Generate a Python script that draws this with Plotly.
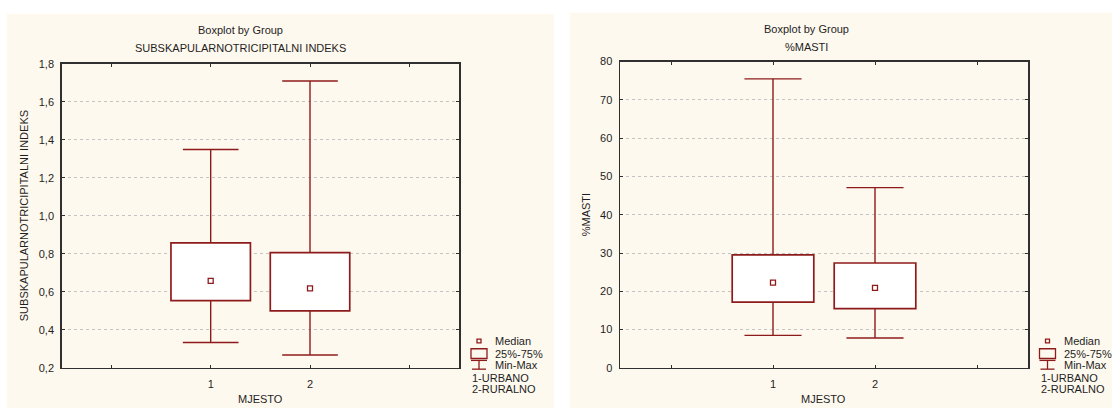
import plotly.graph_objects as go

# ---------------- data ----------------
groups = [1, 2]
group_labels = ["1", "2"]

# SUBSKAPULARNOTRICIPITALNI INDEKS
sub_min = [0.334, 0.268]
sub_q1 = [0.554, 0.500]
sub_med = [0.658, 0.619]
sub_q3 = [0.858, 0.807]
sub_max = [1.350, 1.710]

# %MASTI
mast_min = [8.5, 7.8]
mast_q1 = [17.2, 15.5]
mast_med = [22.3, 20.9]
mast_q3 = [29.5, 27.4]
mast_max = [75.5, 47.1]

left_yticks = [0.2, 0.4, 0.6, 0.8, 1.0, 1.2, 1.4, 1.6, 1.8]
right_yticks = [0, 10, 20, 30, 40, 50, 60, 70, 80]

# ---------------- style ----------------
W, H = 1112, 414
RED = "#8e1b1b"
BEIGE = "#fef9ee"
AX = "#303030"
TXT = "#1e1e1e"
FONT = "Liberation Sans, Arial, sans-serif"
BOX_W = 0.8
CAP = 0.28


def px(x):
    return x / W


def py(y):
    return 1 - y / H


fig = go.Figure()


def add_group(xa, ya, mn, q1, med, q3, mx):
    # box body
    fig.add_trace(go.Bar(
        x=groups, y=[b - a for a, b in zip(q1, q3)], base=q1, width=BOX_W,
        marker=dict(color="white", line=dict(color=RED, width=1.7)),
        xaxis=xa, yaxis=ya, showlegend=False, hoverinfo="skip"))
    # whiskers
    wx, wy = [], []
    for g, lo, a, b, hi in zip(groups, mn, q1, q3, mx):
        wx += [g, g, None, g, g, None, g - CAP, g + CAP, None, g - CAP, g + CAP, None]
        wy += [b, hi, None, a, lo, None, hi, hi, None, lo, lo, None]
    fig.add_trace(go.Scatter(
        x=wx, y=wy, mode="lines", line=dict(color=RED, width=1.4),
        xaxis=xa, yaxis=ya, showlegend=False, hoverinfo="skip"))
    # medians
    fig.add_trace(go.Scatter(
        x=groups, y=med, mode="markers",
        marker=dict(symbol="square-open", size=5, color=RED, line=dict(width=1.3, color=RED)),
        xaxis=xa, yaxis=ya, showlegend=False, hoverinfo="skip"))


add_group("x", "y", sub_min, sub_q1, sub_med, sub_q3, sub_max)
add_group("x2", "y2", mast_min, mast_q1, mast_med, mast_q3, mast_max)

xaxis_common = dict(
    range=[-0.5, 3.5], tickvals=[0, 1, 2, 3], ticktext=["", group_labels[0], group_labels[1], ""],
    showline=True, linecolor=AX, linewidth=1.5, mirror="ticks",
    ticks="inside", ticklen=3, tickcolor=AX, tickwidth=1,
    showgrid=False, zeroline=False, fixedrange=True,
    tickfont=dict(family=FONT, size=11, color=TXT), ticklabelstandoff=5,
)
yaxis_common = dict(
    showline=True, linecolor=AX, linewidth=1.5, mirror="ticks",
    ticks="inside", ticklen=3, tickcolor=AX, tickwidth=1,
    showgrid=True, gridcolor="#c4c4c4", griddash="dot", gridwidth=1,
    zeroline=False, fixedrange=True,
    tickfont=dict(family=FONT, size=11, color=TXT), ticklabelstandoff=4,
)

fig.update_layout(
    width=W, height=H,
    margin=dict(l=0, r=0, t=0, b=0),
    paper_bgcolor="white", plot_bgcolor="white",
    separators=",.",
    bargap=0,
    showlegend=False,
    xaxis=dict(domain=[px(61.7), px(459)], anchor="y", **xaxis_common),
    yaxis=dict(domain=[py(372.7), py(59.7)], anchor="x", range=[0.2, 1.8],
               tickvals=left_yticks, tickformat=".1f", **yaxis_common),
    xaxis2=dict(domain=[px(620), px(1028)], anchor="y2", **xaxis_common),
    yaxis2=dict(domain=[py(372.7), py(57.3)], anchor="x2", range=[0, 80],
                tickvals=right_yticks, **yaxis_common),
)

shapes = []
# panel backgrounds
shapes.append(dict(type="rect", xref="paper", yref="paper", layer="below",
                   x0=px(7), x1=px(554), y0=py(414), y1=py(8), fillcolor=BEIGE, line=dict(width=0)))
shapes.append(dict(type="rect", xref="paper", yref="paper", layer="below",
                   x0=px(570), x1=px(1112), y0=py(414), y1=py(7), fillcolor=BEIGE, line=dict(width=0)))

annotations = []


def text(x, y, s, anchor="center", angle=0, size=11):
    annotations.append(dict(x=px(x), y=py(y), xref="paper", yref="paper", text=s,
                            showarrow=False, xanchor=anchor, yanchor="middle", textangle=angle,
                            font=dict(family=FONT, size=size, color=TXT)))


def legend(dx):
    # median symbol
    shapes.append(dict(type="rect", xref="paper", yref="paper",
                       x0=px(477 + dx), x1=px(481 + dx), y0=py(347), y1=py(343),
                       line=dict(color=RED, width=1.3), fillcolor="rgba(0,0,0,0)"))
    # box symbol
    shapes.append(dict(type="rect", xref="paper", yref="paper",
                       x0=px(471 + dx), x1=px(487 + dx), y0=py(363), y1=py(353),
                       line=dict(color=RED, width=1.3), fillcolor="rgba(0,0,0,0)"))
    # whisker symbol
    for (x0, y0, x1, y1) in [(471, 365, 487, 365), (479, 365, 479, 374), (472, 374, 486, 374)]:
        shapes.append(dict(type="line", xref="paper", yref="paper",
                           x0=px(x0 + dx), x1=px(x1 + dx), y0=py(y0), y1=py(y1),
                           line=dict(color=RED, width=1.3)))
    text(493 + dx, 345, "Median", "left")
    text(493 + dx, 358, "25%-75%", "left")
    text(493 + dx, 370, "Min-Max", "left")
    text(470 + dx, 383, "1-URBANO", "left")
    text(470 + dx, 394, "2-RURALNO", "left")


legend(0)
legend(568.5)

# titles
text(240, 25, "Boxplot by Group")
text(240, 43.5, "SUBSKAPULARNOTRICIPITALNI INDEKS")
text(806, 23.5, "Boxplot by Group")
text(806, 42, "%MASTI")
# axis titles
text(260, 405, "MJESTO")
text(824, 405, "MJESTO")
text(23.5, 216, "SUBSKAPULARNOTRICIPITALNI INDEKS", angle=-90)
text(585.5, 215, "%MASTI", angle=-90)

fig.update_layout(shapes=shapes, annotations=annotations)

fig.write_html(
    "out.html",
    config={"displayModeBar": False, "staticPlot": True},
    post_script="document.body.style.margin='0';document.body.style.overflow='hidden';",
)
